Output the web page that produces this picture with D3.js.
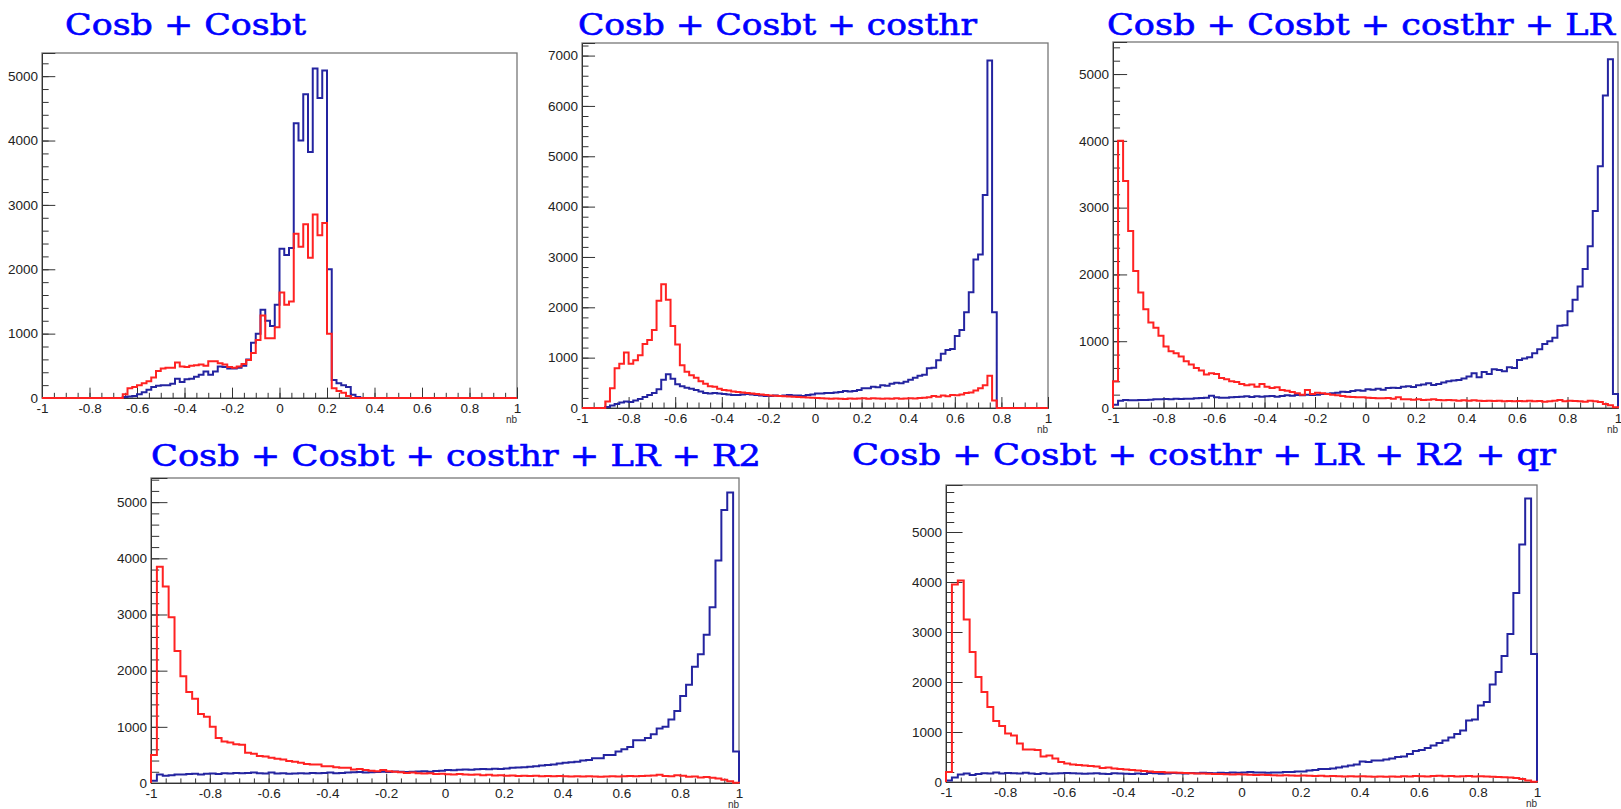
<!DOCTYPE html>
<html>
<head>
<meta charset="utf-8">
<script src="https://cdn.jsdelivr.net/npm/d3@7"></script>
<style>
  body { margin: 0; background: #fff; }
  .tick text { font-family: "Liberation Sans", Arial, sans-serif; font-size: 13.5px; fill: #222; }
  .tick line { stroke: #333; }
</style>
</head>
<body>
<svg id="chart"></svg>
<script>
// panel titles
const titles = [
  "Cosb + Cosbt",
  "Cosb + Cosbt + costhr",
  "Cosb + Cosbt + costhr + LR",
  "Cosb + Cosbt + costhr + LR + R2",
  "Cosb + Cosbt + costhr + LR + R2 + qr"
];
const xTicks = [-1, -0.8, -0.6, -0.4, -0.2, 0, 0.2, 0.4, 0.6, 0.8, 1];
const yMax = [5360, 7250, 5480, 5430, 5940];

// 100 bins of nb in [-1, 1]
const red1 = [0,0,0,0,0,0,0,0,0,0, 0,0,0,0,0,0,0,60,150,170,
  200,230,260,320,420,460,470,470,550,490, 480,500,510,520,500,570,570,540,520,480,
  470,490,530,590,700,900,1280,930,930,1100, 1640,1450,1500,2550,2350,2700,2180,2850,2530,2720,
  1000,150,110,80,30,0,0,0,0,0, 0,0,0,0,0,0,0,0,0,0,
  0,0,0,0,0,0,0,0,0,0, 0,0,0,0,0,0,0,0,0,0];
const blue1 = [0,0,0,0,0,0,0,0,0,0, 0,0,0,0,0,0,0,15,25,30,
  60,90,130,170,190,200,200,220,300,250, 290,300,330,360,410,360,410,490,480,460,
  460,470,500,600,860,1000,1370,1200,1120,1450, 2320,2220,2330,4270,4000,4720,3820,5120,4660,5090,
  2000,280,230,200,170,50,15,0,0,0, 0,0,0,0,0,0,0,0,0,0,
  0,0,0,0,0,0,0,0,0,0, 0,0,0,0,0,0,0,0,0,0];

const red2 = [0,0,0,0,0,130,390,790,880,1100, 880,950,1050,1270,1350,1550,2130,2460,2150,1630,
  1260,850,720,650,600,530,480,430,420,380, 360,350,330,320,310,300,290,280,270,260,
  250,245,240,235,230,225,220,215,210,205, 200,195,190,185,190,185,180,190,185,190,
  195,185,195,190,185,190,185,195,185,190, 195,190,200,205,215,240,225,250,235,260,
  255,270,300,310,350,390,450,640,150,0, 0,0,0,0,0,0,0,0,0,0];
const blue2 = [0,0,0,0,0,20,50,80,110,130, 120,150,180,220,260,300,370,560,670,580,
  470,430,400,380,360,330,300,290,300,290, 280,270,260,260,270,280,270,260,250,240,
  240,250,240,250,260,250,250,240,260,270, 290,290,300,300,310,320,340,330,340,360,
  390,390,420,410,450,440,480,500,490,520, 560,600,640,660,790,800,950,1080,1150,1170,
  1430,1550,1900,2300,2950,3050,4230,6900,1900,0, 0,0,0,0,0,0,0,0,0,0];

const red3 = [400,4000,3400,2650,2050,1730,1480,1280,1200,1080, 920,850,820,770,700,650,600,560,500,520,
  510,450,430,400,390,360,340,350,320,360, 320,300,310,270,260,240,220,200,270,210,
  230,220,210,200,190,180,170,165,160,160, 155,150,145,145,150,140,160,130,130,125,
  130,120,125,130,120,115,120,115,110,115, 110,115,110,105,110,105,110,100,105,100,
  105,100,110,100,105,95,100,110,120,100, 110,105,100,95,110,100,90,60,40,10];
const blue3 = [50,110,120,115,115,120,120,125,130,130, 135,130,140,135,140,140,145,150,155,185,
  160,155,155,160,165,170,175,165,175,170, 175,180,170,180,190,185,195,190,200,195,
  200,210,215,220,230,245,240,255,265,260, 280,275,290,275,300,305,300,320,325,315,
  340,350,370,345,360,380,400,410,420,440, 470,520,460,540,510,580,570,550,610,600,
  720,740,760,820,880,960,1000,1050,1230,1240, 1450,1620,1820,2080,2420,2950,3620,4680,5220,210];

const red4 = [500,3850,3500,2950,2350,1900,1620,1500,1230,1180, 1000,800,740,720,690,680,540,520,480,470,
  450,430,420,390,380,360,340,330,330,300, 300,280,270,270,240,250,230,220,210,230,
  210,200,190,180,185,175,170,175,160,165, 155,150,160,150,145,150,140,145,135,140,
  130,135,125,130,125,130,120,125,120,125, 120,115,120,115,120,115,110,115,120,115,
  120,125,120,125,130,135,145,125,120,140, 130,110,115,100,105,95,80,60,30,5];
const blue4 = [40,150,130,140,150,150,160,165,150,165, 170,160,175,170,180,175,180,185,175,170,
  185,170,175,165,170,175,170,180,175,180, 185,175,180,185,190,195,185,190,195,200,
  195,205,200,195,200,205,210,200,215,220, 230,225,235,240,235,245,250,245,255,250,
  260,270,275,280,290,300,310,320,330,345, 360,370,380,400,410,440,440,500,500,560,
  600,640,760,760,800,870,970,1000,1130,1280, 1550,1750,2070,2290,2640,3130,3960,4860,5170,560];

const red5 = [200,3950,4030,3250,2600,2100,1800,1500,1220,1120, 970,930,770,650,650,640,510,530,470,400,
  370,350,340,330,320,310,280,290,270,260, 250,240,230,220,210,200,200,190,190,185,
  180,175,170,170,165,160,160,155,150,155, 150,145,140,145,140,135,130,135,130,125,
  130,125,120,125,115,120,115,110,115,110, 115,110,105,110,105,110,105,115,110,120,
  115,110,120,125,115,120,110,115,120,110, 115,110,105,100,95,90,80,60,30,5];
const blue5 = [30,90,150,170,140,160,175,170,190,170, 180,175,170,185,170,160,175,165,170,175,
  180,175,170,165,170,175,165,160,175,170, 165,160,170,160,180,175,165,170,180,175,
  170,180,175,185,180,175,185,180,190,185, 190,200,190,190,185,190,190,200,200,210,
  210,230,240,260,260,270,290,310,330,350, 410,400,430,430,450,470,500,510,560,620,
  640,680,730,780,830,890,960,1030,1230,1250, 1530,1600,1950,2200,2520,2960,3780,4750,5670,2560];

const reds = [red1, red2, red3, red4, red5];
const blues = [blue1, blue2, blue3, blue4, blue5];

// where each pad sits in the collage
const layout = [
  { x0: 42,   x1: 517,  y0: 53,  y1: 398, tx: 65,   tw: 241, ty: 35 },
  { x0: 582,  x1: 1048, y0: 43,  y1: 408, tx: 578,  tw: 399, ty: 35 },
  { x0: 1113, x1: 1618, y0: 42,  y1: 408, tx: 1107, tw: 508, ty: 35 },
  { x0: 151,  x1: 739,  y0: 478, y1: 783, tx: 151,  tw: 610, ty: 466 },
  { x0: 946,  x1: 1537, y0: 485, y1: 782, tx: 852,  tw: 704, ty: 465 }
];

const svg = d3.select("#chart").attr("width", 1621).attr("height", 809);
const edges = d3.range(101).map(i => -1 + i * 0.02);
const fmt = d => String(Math.round(d * 10) / 10);

function stepPoints(vals) {
  const pts = [[-1, 0]];
  vals.forEach((v, i) => {
    pts.push([edges[i], v]);
    pts.push([edges[i + 1], v]);
  });
  pts.push([1, 0]);
  return pts;
}

layout.forEach((p, k) => {
  const x = d3.scaleLinear().domain([-1, 1]).range([p.x0, p.x1]);
  const y = d3.scaleLinear().domain([0, yMax[k]]).range([p.y1, p.y0]);
  const w = p.x1 - p.x0, h = p.y1 - p.y0;
  const g = svg.append("g");

  g.append("rect")
    .attr("x", p.x0).attr("y", p.y0)
    .attr("width", w).attr("height", h)
    .attr("fill", "none").attr("stroke", "#777").attr("stroke-width", 1.3);

  // y axis, ticks inside the frame
  g.append("g").attr("transform", `translate(${p.x0},0)`)
    .call(d3.axisLeft(y).tickValues(d3.range(0, yMax[k], 200)).tickSize(-0.014 * w).tickFormat(""))
    .call(a => a.select(".domain").remove());
  g.append("g").attr("transform", `translate(${p.x0},0)`)
    .call(d3.axisLeft(y).tickValues(d3.range(0, yMax[k], 1000)).tickSize(-0.028 * w).tickPadding(4).tickFormat(d3.format("d")))
    .call(a => a.select(".domain").attr("stroke", "#333"));

  // x axis
  g.append("g").attr("transform", `translate(0,${p.y1})`)
    .call(d3.axisBottom(x).tickValues(d3.range(-1, 1.001, 0.05)).tickSize(-0.015 * h).tickFormat(""))
    .call(a => a.select(".domain").remove());
  g.append("g").attr("transform", `translate(0,${p.y1})`)
    .call(d3.axisBottom(x).tickValues(xTicks).tickSize(-0.03 * h).tickPadding(5).tickFormat(fmt))
    .call(a => a.select(".domain").attr("stroke", "#333"));

  g.append("text")
    .attr("x", p.x1).attr("y", p.y1 + 25)
    .attr("text-anchor", "end")
    .attr("font-family", "Liberation Sans, Arial, sans-serif")
    .attr("font-size", 10).attr("fill", "#333")
    .text("nb");

  const line = d3.line().x(d => x(d[0])).y(d => y(d[1]));
  g.append("path").attr("d", line(stepPoints(blues[k])))
    .attr("fill", "none").attr("stroke", "#2424a0").attr("stroke-width", 2);
  g.append("path").attr("d", line(stepPoints(reds[k])))
    .attr("fill", "none").attr("stroke", "#ff2222").attr("stroke-width", 2);

  g.append("text")
    .attr("x", p.tx).attr("y", p.ty)
    .attr("textLength", p.tw).attr("lengthAdjust", "spacingAndGlyphs")
    .attr("font-family", "DejaVu Serif, serif")
    .attr("font-size", 29)
    .attr("fill", "#0000ff").attr("stroke", "#0000ff").attr("stroke-width", 0.6)
    .text(titles[k]);
});
</script>
</body>
</html>
